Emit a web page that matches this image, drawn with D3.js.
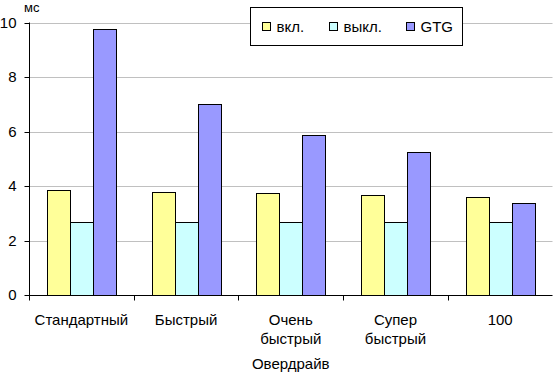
<!DOCTYPE html>
<html><head><meta charset="utf-8">
<script src="https://cdn.jsdelivr.net/npm/d3@7"></script>
<style>body{margin:0;background:#fff}svg{display:block}text{font-family:"Liberation Sans",Arial,sans-serif;fill:#000}</style>
</head><body>
<svg id="c" width="553" height="374"></svg>
<script>
const categories = ["Стандартный", "Быстрый", "Очень\nбыстрый", "Супер\nбыстрый", "100"];
const seriesNames = ["вкл.", "выкл.", "GTG"];
const seriesOn = [3.85, 3.77, 3.74, 3.66, 3.62];
const seriesOff = [2.68, 2.68, 2.68, 2.68, 2.68];
const seriesGTG = [9.78, 7.0, 5.87, 5.27, 3.37];
const colors = ["#ffff99", "#ccffff", "#9999ff"];
const yTicks = [0, 2, 4, 6, 8, 10];
const yUnit = "мс";
const xTitle = "Овердрайв";

const svg = d3.select("#c");
const x0 = 29, x1 = 552.5, yTop = 22.5, yBot = 295.3;
const x = d3.scaleBand().domain(categories).range([x0, x1]).paddingInner(0).paddingOuter(0);
const xs = d3.scaleBand().domain(seriesNames).range([0, x.bandwidth()]).paddingInner(0).paddingOuter(0.774);
const y = d3.scaleLinear().domain([0, 10]).range([yBot, yTop]);
const data = [seriesOn, seriesOff, seriesGTG];

// gridlines
svg.append("g").selectAll("line").data(yTicks.filter(d => d > 0)).join("line")
  .attr("x1", x0).attr("x2", x1).attr("y1", d => Math.round(y(d)) + 0.5).attr("y2", d => Math.round(y(d)) + 0.5)
  .attr("stroke", "#c0c0c0").attr("stroke-width", 1);

// bars
categories.forEach((c, ci) => {
  svg.append("g").selectAll("rect").data(seriesNames).join("rect")
    .attr("x", s => Math.round(x(c) + xs(s)) + 0.5)
    .attr("y", (s, si) => Math.round(y(data[si][ci])) + 0.5)
    .attr("width", Math.round(xs.bandwidth()))
    .attr("height", (s, si) => Math.round(yBot) - Math.round(y(data[si][ci])))
    .attr("fill", (s, si) => colors[si])
    .attr("stroke", "#000").attr("stroke-width", 1);
});

// y axis
const ya = svg.append("g").attr("transform", `translate(${Math.round(x0)+0.5},0)`)
  .call(d3.axisLeft(y).tickValues(yTicks).tickSize(5).tickPadding(8).tickFormat(d3.format("d")));
ya.select(".domain").attr("d", `M0,${yTop}V${Math.round(yBot)+0.5}`);
ya.selectAll(".tick line").attr("stroke", "#000");
ya.selectAll(".tick text").attr("font-size", 15).attr("font-family", "Liberation Sans, Arial, sans-serif");
ya.selectAll(".tick").attr("transform", d => `translate(0,${Math.round(y(d)) + 0.5})`);

// x axis
const xa = svg.append("g").attr("transform", `translate(0,${Math.round(yBot)+0.5})`);
xa.append("line").attr("x1", x0).attr("x2", x1).attr("stroke", "#000");
const bounds = categories.map(c => x(c)).concat([x1]);
xa.selectAll("line.t").data(bounds).join("line").attr("class", "t")
  .attr("x1", d => Math.round(d) + 0.5).attr("x2", d => Math.round(d) + 0.5).attr("y1", 0).attr("y2", 5).attr("stroke", "#000");
categories.forEach(c => {
  const lines = c.split("\n");
  const t = svg.append("text").attr("text-anchor", "middle").attr("font-size", 15)
    .attr("x", x(c) + x.bandwidth() / 2).attr("y", 325);
  lines.forEach((l, i) => t.append("tspan").attr("x", x(c) + x.bandwidth() / 2).attr("dy", i ? 19 : 0).text(l));
});

svg.append("text").attr("x", (x0 + x1) / 2).attr("y", 368.5).attr("text-anchor", "middle").attr("font-size", 15).text(xTitle);
svg.append("text").attr("x", 24).attr("y", 12).attr("font-size", 13).text(yUnit);

// legend
const lg = svg.append("g");
lg.append("rect").attr("x", 250.5).attr("y", 7.5).attr("width", 212).attr("height", 38).attr("fill", "#fff").attr("stroke", "#000");
const lx = [262.5, 329.5, 406.5];
seriesNames.forEach((s, i) => {
  lg.append("rect").attr("x", lx[i]).attr("y", 22.5).attr("width", 8).attr("height", 8).attr("fill", colors[i]).attr("stroke", "#000");
  lg.append("text").attr("x", lx[i] + 14).attr("y", 31.5).attr("font-size", 15).text(s);
});
</script>
</body></html>
